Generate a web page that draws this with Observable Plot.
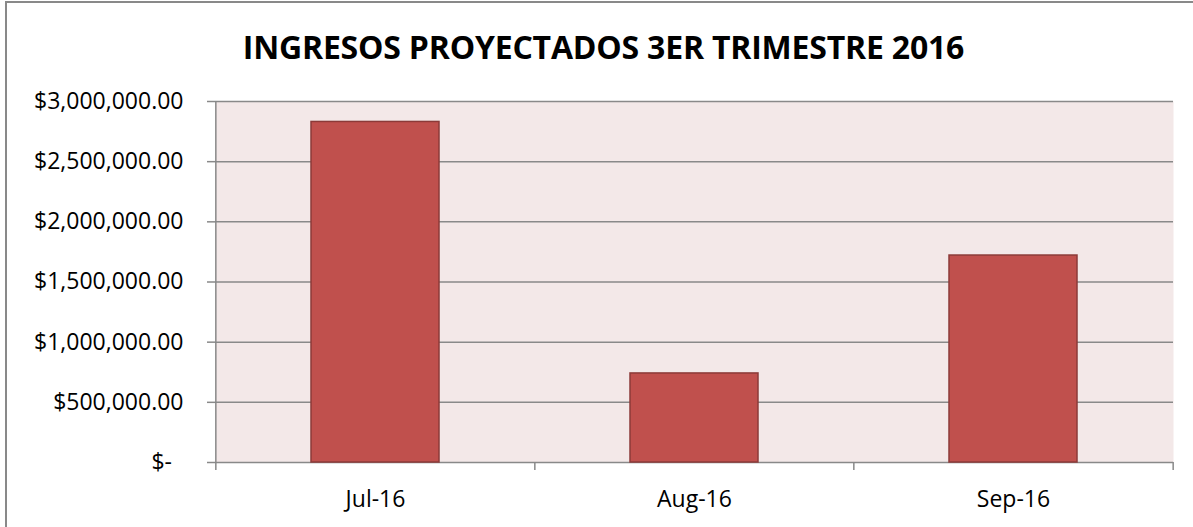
<!DOCTYPE html>
<html>
<head>
<meta charset="utf-8">
<script src="https://cdn.jsdelivr.net/npm/d3@7"></script>
<script src="https://cdn.jsdelivr.net/npm/@observablehq/plot@0.6"></script>
<style>
  html, body { margin: 0; padding: 0; background: #fff; width: 1193px; height: 527px; overflow: hidden; }
  #wrap { position: relative; width: 1193px; height: 527px; overflow: hidden; }
  #border { position: absolute; left: 5px; top: 1px; width: 1400px; height: 700px; border: 2px solid #898989; box-sizing: border-box; }
  #title { position: absolute; left: 0; top: 25px; width: 1207px; text-align: center; font-family: "Open Sans", sans-serif; font-weight: bold; font-size: 32px; line-height: normal; color: #000; white-space: nowrap; letter-spacing: -0.2px; }
  #chart { position: absolute; left: 0; top: 0; }
</style>
</head>
<body>
<div id="wrap">
  <div id="border"></div>
  <div id="title">INGRESOS PROYECTADOS 3ER TRIMESTRE 2016</div>
  <div id="chart"></div>
</div>
<script>
const months = ["Jul-16", "Aug-16", "Sep-16"];
const ingresos = [2830000, 740000, 1720000];
const yTicks = [0, 500000, 1000000, 1500000, 2000000, 2500000, 3000000];
const yTickLabels = ["$-\u2002", "$500,000.00", "$1,000,000.00", "$1,500,000.00", "$2,000,000.00", "$2,500,000.00", "$3,000,000.00"];

const data = months.map((m, i) => ({month: m, value: ingresos[i]}));
const labelOf = new Map(yTicks.map((t, i) => [t, yTickLabels[i]]));

const W = 1193, H = 527, mL = 215, mR = 20, mT = 101, mB = 65;
const xOpts = {domain: months, paddingInner: 0.6, paddingOuter: 0.3};
const xs = Plot.scale({x: {type: "band", ...xOpts, range: [mL, W - mR]}});
const step = xs.step;
const axisGray = "#898989";

const chart = Plot.plot({
  width: W, height: H,
  marginLeft: mL, marginRight: mR, marginTop: mT, marginBottom: mB,
  style: {fontFamily: "'Open Sans', sans-serif", fontSize: "23px", color: "#000", background: "transparent", overflow: "visible"},
  x: {type: "band", ...xOpts, axis: null, label: null},
  y: {domain: [0, 3000000], axis: null, label: null},
  marks: [
    Plot.frame({fill: "#F3E8E8", stroke: null}),
    Plot.ruleY(yTicks, {stroke: axisGray, strokeWidth: 1.5}),
    Plot.ruleX([months[0]], {dx: -step / 2, stroke: axisGray, strokeWidth: 1.5}),
    Plot.barY(data, {x: "month", y: "value", fill: "#C0504D", stroke: "#8C3A38", strokeWidth: 1.5}),
    Plot.axisY(yTicks, {label: null, tickSize: 8, tickPadding: 24, tickFormat: d => labelOf.get(d), stroke: axisGray, strokeWidth: 1.5, fill: "#000"}),
    Plot.axisX(months, {label: null, tickSize: 8, tickFormat: () => "", dx: -step / 2, stroke: axisGray, strokeWidth: 1.5}),
    Plot.axisX([months[months.length - 1]], {label: null, tickSize: 8, tickFormat: () => "", dx: step / 2, stroke: axisGray, strokeWidth: 1.5}),
    Plot.axisX(months, {label: null, tickSize: 0, tickPadding: 28, fill: "#000"})
  ]
});
document.getElementById("chart").appendChild(chart);
</script>
</body>
</html>
